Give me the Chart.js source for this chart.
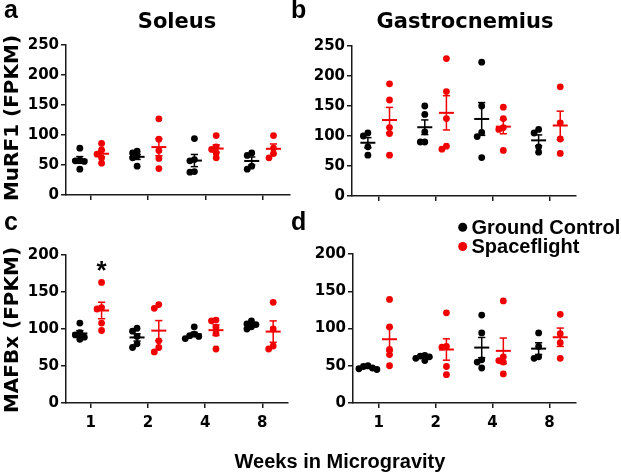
<!DOCTYPE html>
<html><head><meta charset="utf-8">
<script src="https://cdn.jsdelivr.net/npm/chart.js@4.4.1/dist/chart.umd.min.js"></script>
<style>
html,body{margin:0;padding:0;background:#fff;}
#wrap{position:relative;width:621px;height:475px;overflow:hidden;background:#fff;}
canvas{position:absolute;left:0;top:0;}
svg{position:absolute;left:0;top:0;}
.dj{font-family:'DejaVu Sans',sans-serif;font-weight:bold;}
.ls{font-family:'Liberation Sans',Arial,sans-serif;font-weight:bold;}
</style></head><body>
<div id="wrap">
<canvas id="cA" width="621" height="475" style="width:621px;height:475px"></canvas>
<canvas id="cB" width="621" height="475" style="width:621px;height:475px"></canvas>
<canvas id="cC" width="621" height="475" style="width:621px;height:475px"></canvas>
<canvas id="cD" width="621" height="475" style="width:621px;height:475px"></canvas>
<svg width="621" height="475">
  <text class="ls" x="4" y="18" font-size="25">a</text>
  <text class="ls" x="291" y="18" font-size="25">b</text>
  <text class="ls" x="4" y="230" font-size="25">c</text>
  <text class="ls" x="291" y="230" font-size="25">d</text>
  <text class="dj" x="177" y="28" font-size="21" text-anchor="middle">Soleus</text>
  <text class="dj" x="465" y="27.5" font-size="21" text-anchor="middle">Gastrocnemius</text>
  <text class="dj" font-size="20" text-anchor="middle" transform="translate(18,118) rotate(-90)">MuRF1 (FPKM)</text>
  <text class="dj" font-size="20" text-anchor="middle" transform="translate(18,330) rotate(-90)">MAFBx (FPKM)</text>
  <text class="ls" x="340" y="468" font-size="20" text-anchor="middle">Weeks in Microgravity</text>
  <circle cx="462.7" cy="227.3" r="4.5" fill="#000"/>
  <text class="ls" x="471.5" y="233.5" font-size="20">Ground Control</text>
  <circle cx="462.7" cy="246.5" r="4.5" fill="#f00000"/>
  <text class="ls" x="471.5" y="252.5" font-size="20">Spaceflight</text>
</svg>
</div>
<script>
// ---- data ----
const weeks = ['1', '2', '4', '8'];

const soleusMuRF1Ground = [[78, 57, 56, 58, 43], [73, 70, 65, 62, 48], [94, 59, 57, 39, 38], [70, 66, 48, 43]];
const soleusMuRF1Space  = [[86, 75, 68, 62, 53], [127, 93, 74, 61, 44], [99, 80, 76, 70, 62], [99, 78, 69, 62]];

const gastroMuRF1Ground = [[105, 100, 82, 68], [150, 136, 107, 90, 90], [223, 150, 106, 99, 64], [111, 105, 82, 73]];
const gastroMuRF1Space  = [[187, 160, 114, 104, 68], [229, 174, 129, 83, 78], [148, 129, 114, 111, 76], [182, 122, 95, 71]];

const soleusMAFBxGround = [[108, 95, 92, 89, 86], [101, 97, 90, 80, 75], [103, 93, 91, 90, 87], [111, 107, 106, 103, 100]];
const soleusMAFBxSpace  = [[163, 129, 127, 108, 98], [133, 128, 84, 75, 69], [112, 111, 102, 94, 73], [136, 100, 77, 73]];

const gastroMAFBxGround = [[50, 49, 47, 46, 45], [64, 63, 62, 60, 57], [118, 94, 58, 55, 47], [94, 76, 62, 60]];
const gastroMAFBxSpace  = [[139, 102, 72, 65, 50], [121, 76, 75, 49, 38], [137, 62, 57, 55, 39], [119, 93, 81, 60]];

const soleusMAFBxSignificance = ['*', '', '', ''];
const noSignificance = ['', '', '', ''];

// ---- styling / layout ----
const BLACK = '#000000', RED = '#f00000';
const AXIS = '#1a1a1a';
const GROUP_OFFSET = 0.19;

function meanSem(arr) {
  const n = arr.length;
  const m = arr.reduce((a, b) => a + b, 0) / n;
  const sd = Math.sqrt(arr.reduce((a, b) => a + (b - m) * (b - m), 0) / (n - 1));
  return { m, sem: sd / Math.sqrt(n) };
}

function swarm(values, pxY, step, minDist) {
  const idx = values.map((v, i) => i).sort((a, b) => values[b] - values[a]);
  const placed = [];
  const dx = new Array(values.length).fill(0);
  for (const i of idx) {
    const y = values[i] * pxY;
    for (let k = 0; k < 30; k++) {
      const c = k === 0 ? 0 : (k % 2 ? -1 : 1) * Math.ceil(k / 2) * step;
      if (placed.every(p => Math.hypot(p.x - c, p.y - y) >= minDist)) {
        dx[i] = c; placed.push({ x: c, y }); break;
      }
    }
  }
  return dx;
}

function seriesDatasets(groups, color, off, pxX, pxY) {
  const pts = [], means = [], caps = [], whisk = [];
  groups.forEach((vals, gi) => {
    const cx = gi + off;
    const dx = swarm(vals, pxY, 4.5, 4.5);
    vals.forEach((v, j) => pts.push({ x: cx + dx[j] / pxX, y: v }));
    const { m, sem } = meanSem(vals);
    means.push({ x: cx, y: m });
    caps.push({ x: cx, y: m + sem }, { x: cx, y: m - sem });
    whisk.push({ x: cx, y: m - sem }, { x: cx, y: m + sem }, { x: cx, y: null });
  });
  return [
    { type: 'scatter', data: means, pointStyle: 'line', pointRadius: 7.5, pointBorderWidth: 2, pointBorderColor: color, pointBackgroundColor: color, showLine: false, order: 0 },
    { type: 'scatter', data: caps, pointStyle: 'line', pointRadius: 3.6, pointBorderWidth: 1.5, pointBorderColor: color, pointBackgroundColor: color, showLine: false, order: 0 },
    { type: 'scatter', data: whisk, showLine: true, spanGaps: false, borderColor: color, borderWidth: 1.5, pointRadius: 0, order: 0 },
    { type: 'scatter', data: pts, pointRadius: 3.4, pointBorderWidth: 0, pointBackgroundColor: color, pointBorderColor: color, showLine: false, order: 1 }
  ];
}

const sigPlugin = {
  id: 'sig',
  afterDatasetsDraw(chart, args, opts) {
    const marks = opts.marks || [];
    const ctx = chart.ctx;
    ctx.save();
    ctx.fillStyle = '#000';
    ctx.font = 'bold 26px "Liberation Sans", Arial, sans-serif';
    ctx.textAlign = 'center';
    ctx.textBaseline = 'alphabetic';
    marks.forEach((mk, i) => {
      if (!mk) return;
      const top = Math.max(...opts.series[i]);
      const x = chart.scales.x.getPixelForValue(i + GROUP_OFFSET);
      const y = chart.scales.y.getPixelForValue(top) - 3;
      ctx.fillText(mk, x, y);
    });
    ctx.restore();
  }
};

function makePanel(id, ground, space, sig, L, R, T, B, xmin, xmax, ymax, showLabels) {
  const pxX = (R - L) / (xmax - xmin);
  const pxY = (B - T) / ymax;
  const datasets = [
    ...seriesDatasets(ground, BLACK, -GROUP_OFFSET, pxX, pxY),
    ...seriesDatasets(space, RED, GROUP_OFFSET, pxX, pxY)
  ];
  const tickFont = { family: "'DejaVu Sans', sans-serif", weight: 'bold', size: 15 };
  const grid = { drawOnChartArea: false, drawTicks: true, tickLength: 5, color: AXIS, lineWidth: 1.5 };
  const border = { display: true, color: AXIS, width: 1.5 };
  new Chart(document.getElementById(id), {
    type: 'scatter',
    data: { datasets },
    options: {
      responsive: false, animation: false, events: [],
      layout: { padding: { left: L - 60, right: 621 - R, top: T, bottom: 475 - B - 30 } },
      plugins: { legend: { display: false }, tooltip: { enabled: false }, title: { display: false },
                 sig: { marks: sig, series: space } },
      scales: {
        x: {
          type: 'linear', min: xmin, max: xmax,
          afterBuildTicks: s => { s.ticks = weeks.map((w, i) => ({ value: i })); },
          afterFit: s => { s.height = 30; },
          ticks: { display: showLabels, autoSkip: false, maxRotation: 0, padding: 6, color: '#000', font: tickFont,
                   callback: v => weeks[v] },
          grid, border
        },
        y: {
          type: 'linear', min: 0, max: ymax,
          afterFit: s => { s.width = 60; },
          ticks: { stepSize: 50, padding: 2, color: '#000', font: tickFont },
          grid, border
        }
      }
    },
    plugins: [sigPlugin]
  });
}

makePanel('cA', soleusMuRF1Ground, soleusMuRF1Space, noSignificance, 66, 290, 45, 195, -0.431, 3.478, 250, false);
makePanel('cB', gastroMuRF1Ground, gastroMuRF1Space, noSignificance, 352, 576, 46, 196, -0.469, 3.467, 250, false);
makePanel('cC', soleusMAFBxGround, soleusMAFBxSpace, soleusMAFBxSignificance, 66, 288, 255, 403, -0.432, 3.449, 200, true);
makePanel('cD', gastroMAFBxGround, gastroMAFBxSpace, noSignificance, 353, 576, 254, 403, -0.452, 3.467, 200, true);
</script>
</body></html>
